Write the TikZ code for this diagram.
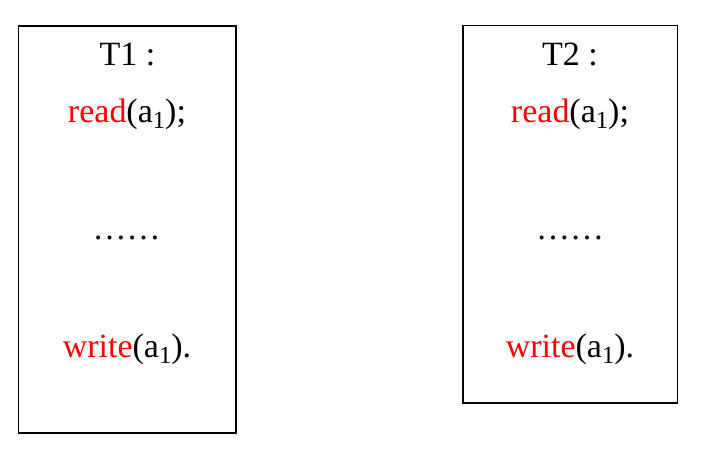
\documentclass[tikz,border=0pt]{standalone}
\usepackage{fontspec}
\setmainfont{Liberation Serif}
\newcommand\subone{\raisebox{-0.18em}{\fontsize{18.5pt}{18.5pt}\selectfont 1}}
\begin{document}
\begin{tikzpicture}[x=0.75pt,y=-0.75pt,
  txt/.style={inner sep=0pt,anchor=base,font=\fontsize{25.5pt}{30pt}\selectfont},
  boxline/.style={draw=black,line width=0.9pt}]
\useasboundingbox (0,0) rectangle (701,456);
% boxes
\draw[boxline] (18.5,26) rectangle (236,433);
\draw[boxline] (463,25.5) rectangle (677.5,403);
% left
\node[txt] (t1) at (127.5,65.5) {T1 :};
\node[txt] (r1) at (127,122.3) {\textcolor{red}{read}(a\subone);};
\node[txt] (d1) at (126.7,240) {……};
\node[txt] (w1) at (127,357.5) {\textcolor{red}{write}(a\subone).};
% right
\node[txt] (t2) at (570,65.5) {T2 :};
\node[txt] (r2) at (570,122.3) {\textcolor{red}{read}(a\subone);};
\node[txt] (d2) at (570,240) {……};
\node[txt] (w2) at (570,357.5) {\textcolor{red}{write}(a\subone).};
\end{tikzpicture}
\end{document}
